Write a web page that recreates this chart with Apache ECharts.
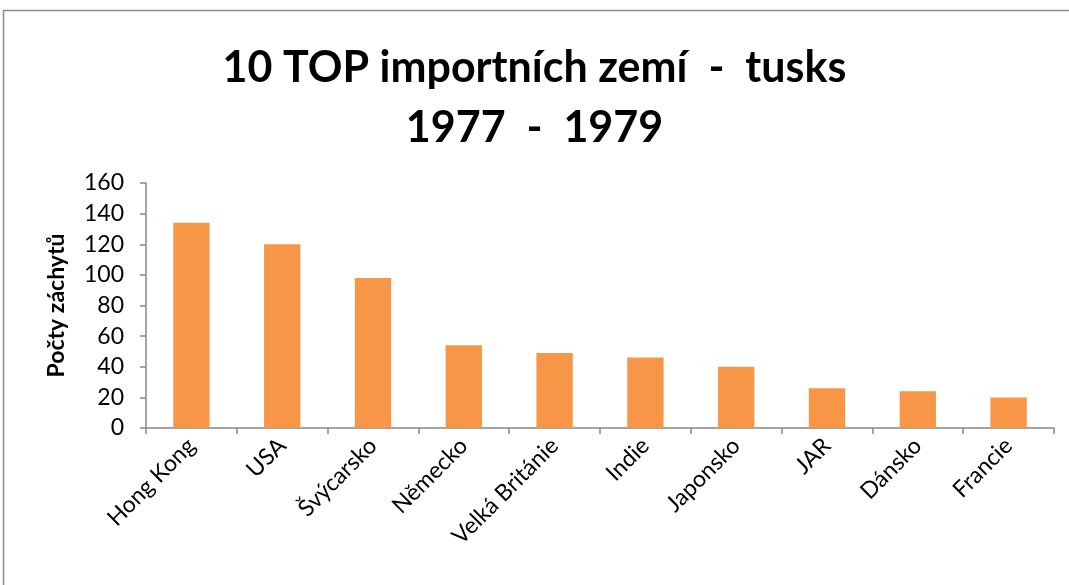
<!DOCTYPE html>
<html><head><meta charset="utf-8">
<script src="https://cdn.jsdelivr.net/npm/echarts@6/dist/echarts.min.js"></script>
<style>html,body{margin:0;padding:0;background:#fff}#c{width:1069px;height:585px}</style>
</head><body><div id="c"></div>
<script>
const categories = ['Hong Kong','USA','Švýcarsko','Německo','Velká Británie','Indie','Japonsko','JAR','Dánsko','Francie'];
const values = [134,120,98,54,49,46,40,26,24,20];
const yTicks = {min:0,max:160,interval:20};
const titleLines = ['10 TOP importních zemí  -  tusks','1977  -  1979'];
const yName = 'Počty záchytů';

const chart = echarts.init(document.getElementById('c'));
const font = 'Lato, "Open Sans", sans-serif';
const tStyle = {fontFamily:font,fontSize:43,fontWeight:'bold',color:'#000'};
chart.setOption({
  animation:false,
  backgroundColor:'#fff',
  graphic:[{type:'rect',shape:{x:3.5,y:10.5,width:1100,height:600},style:{fill:null,stroke:'#8c8c8c',lineWidth:1.5},silent:true}],
  title:[
    {text:titleLines[0],left:'center',top:47,padding:0,textStyle:tStyle},
    {text:titleLines[1],left:'center',top:107,padding:0,textStyle:tStyle}
  ],
  grid:{left:146,right:15,top:183,bottom:157},
  xAxis:{type:'category',data:categories,
    axisLine:{lineStyle:{color:'#868686',width:1.5}},
    axisTick:{show:true,length:6,lineStyle:{color:'#868686',width:1.5}},
    axisLabel:{rotate:45,fontFamily:font,fontSize:23,color:'#000',margin:14,interval:0}},
  yAxis:{type:'value',min:yTicks.min,max:yTicks.max,interval:yTicks.interval,
    name:yName,nameLocation:'middle',nameGap:78,nameRotate:90,
    nameTextStyle:{fontFamily:font,fontSize:23,fontWeight:'bold',color:'#000'},
    splitLine:{show:false},
    axisLine:{show:true,lineStyle:{color:'#868686',width:1.5}},
    axisTick:{show:true,length:6,lineStyle:{color:'#868686',width:1.5}},
    axisLabel:{fontFamily:font,fontSize:23,color:'#000',margin:22}},
  series:[{type:'bar',data:values,barWidth:'40%',itemStyle:{color:'#F79646'}}]
});
</script></body></html>
